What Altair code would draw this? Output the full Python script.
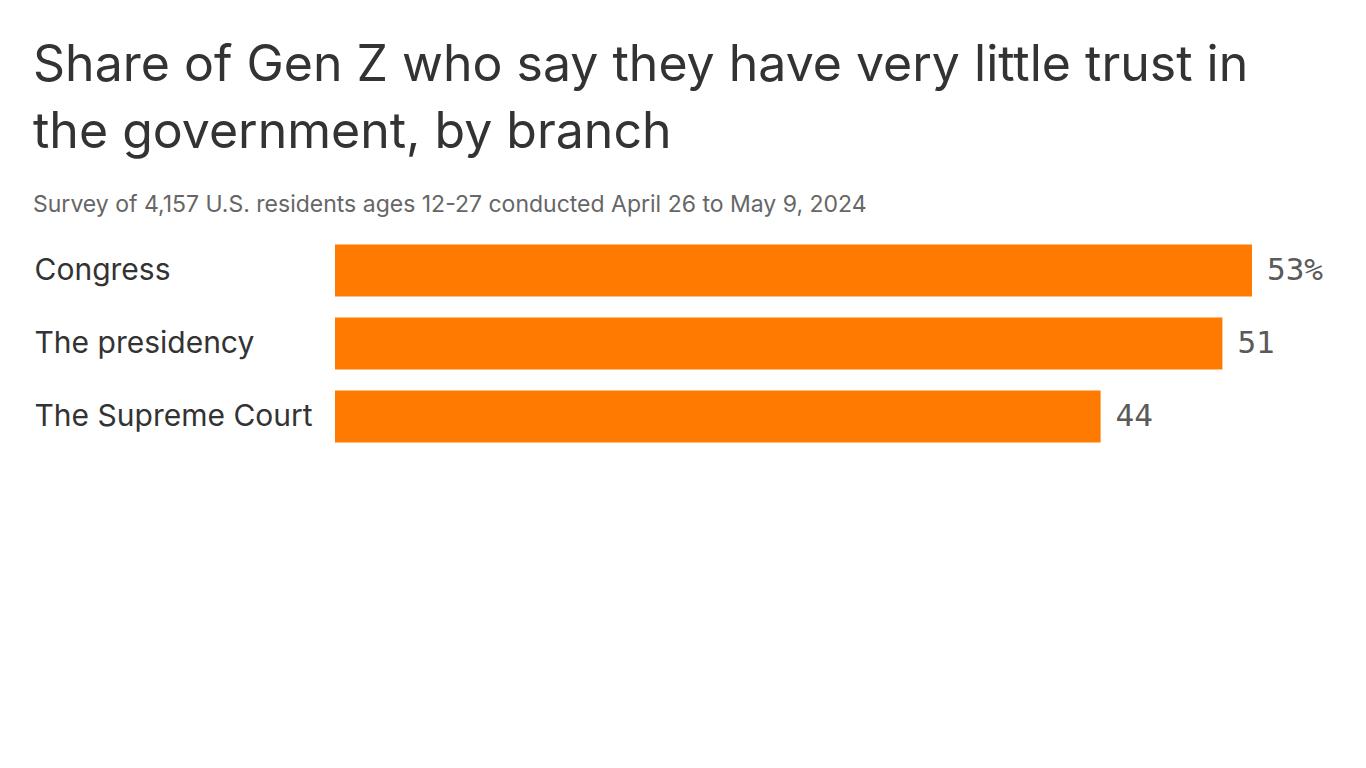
import altair as alt
import pandas as pd

branches = ["Congress", "The presidency", "The Supreme Court"]
values = [52.7, 51.0, 44.0]
labels = ["53%", "51", "44"]

df = pd.DataFrame({"branch": branches, "value": values, "label": labels})

y = alt.Y("branch:N", sort=branches, title=None,
          scale=alt.Scale(paddingInner=0.288, paddingOuter=0.144),
          axis=alt.Axis(labelAlign="left", labelPadding=301, ticks=False, domain=False,
                        labelFont="Inter", labelFontSize=30, labelColor="#333333",
                        labelLimit=400))
x = alt.X("value:Q", title=None, scale=alt.Scale(domain=[0, 52.7], nice=False), axis=None)

bars = alt.Chart(df).mark_bar(color="#ff7a00").encode(x=x, y=y)
text = alt.Chart(df).mark_text(align="left", dx=15, font="DejaVu Sans Mono", fontSize=31,
                               color="#5a5a5a").encode(x=x, y=y, text="label:N")

chart = (bars + text).properties(
    width=917, height=219,
    padding={"left": 25, "top": 33, "right": 5, "bottom": 5},
    title=alt.TitleParams(
        text=["Share of Gen Z who say they have very little trust in", "the government, by branch"],
        subtitle="Survey of 4,157 U.S. residents ages 12-27 conducted April 26 to May 9, 2024",
        anchor="start", frame="bounds", font="Inter", fontSize=50, fontWeight="normal",
        color="#333333", lineHeight=67, subtitleFont="Inter", subtitleFontSize=23,
        subtitleColor="#666666", subtitlePadding=36, offset=17, dx=-1,
    ),
).configure(background="white", view=alt.ViewConfig(stroke=None, strokeWidth=0))

chart.save("out.html", embed_options={"renderer": "svg", "actions": False})
